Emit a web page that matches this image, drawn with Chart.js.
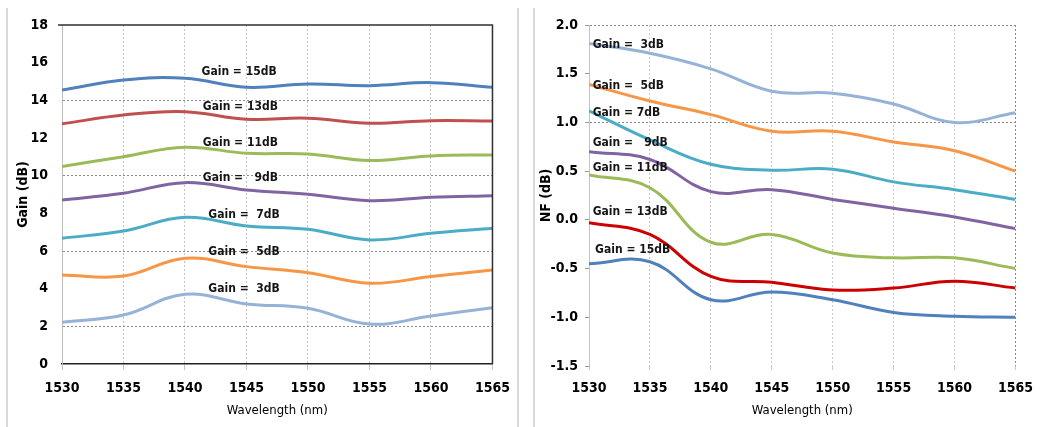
<!DOCTYPE html>
<html>
<head>
<meta charset="utf-8">
<script src="https://cdn.jsdelivr.net/npm/chart.js@4"></script>
<style>
  html, body { margin: 0; padding: 0; background: #fff; }
  #wrap { position: relative; width: 1043px; height: 427px; overflow: hidden; }
  .panel { position: absolute; top: 0; height: 427px; }
  .sep { position: absolute; top: 8px; bottom: 0; width: 0; border-left: 2px solid #d9d9d9; }
</style>
</head>
<body>
<div id="wrap">
  <div class="sep" style="left:6px"></div>
  <div class="sep" style="left:517px"></div>
  <div class="sep" style="left:533px"></div>
  <div class="panel" style="left:0;width:520px"><canvas id="gainChart" width="520" height="427"></canvas></div>
  <div class="panel" style="left:523px;width:520px"><canvas id="nfChart" width="520" height="427"></canvas></div>
</div>
<script>
// data
const wavelength = [1530, 1535, 1540, 1545, 1550, 1555, 1560, 1565];

const gain15 = [14.55, 15.08, 15.17, 14.69, 14.87, 14.78, 14.94, 14.69];
const gain13 = [12.75, 13.22, 13.40, 13.00, 13.05, 12.78, 12.92, 12.90];
const gain11 = [10.48, 11.01, 11.51, 11.19, 11.15, 10.80, 11.05, 11.10];
const gain9  = [8.71, 9.07, 9.63, 9.24, 9.01, 8.67, 8.85, 8.94];
const gain7  = [6.68, 7.06, 7.79, 7.33, 7.15, 6.59, 6.94, 7.21];
const gain5  = [4.73, 4.67, 5.61, 5.17, 4.85, 4.29, 4.64, 4.99];
const gain3  = [2.21, 2.60, 3.70, 3.19, 2.96, 2.12, 2.55, 2.99];

const nf3  = [1.81, 1.71, 1.55, 1.32, 1.30, 1.19, 1.00, 1.10];
const nf5  = [1.39, 1.22, 1.08, 0.91, 0.91, 0.80, 0.71, 0.50];
const nf7  = [1.12, 0.82, 0.57, 0.51, 0.52, 0.39, 0.31, 0.21];
const nf9  = [0.70, 0.62, 0.29, 0.31, 0.21, 0.12, 0.03, -0.09];
const nf11 = [0.46, 0.33, -0.23, -0.15, -0.34, -0.39, -0.39, -0.50];
const nf13 = [-0.03, -0.15, -0.58, -0.64, -0.72, -0.70, -0.63, -0.70];
const nf15 = [-0.45, -0.43, -0.82, -0.74, -0.82, -0.95, -0.99, -1.00];

const leftLabels  = ['Gain = 15dB', 'Gain = 13dB', 'Gain = 11dB', 'Gain =   9dB', 'Gain =  7dB', 'Gain =  5dB', 'Gain =  3dB'];
const rightLabels = ['Gain =  3dB', 'Gain =  5dB', 'Gain = 7dB', 'Gain =   9dB', 'Gain = 11dB', 'Gain = 13dB', 'Gain = 15dB'];

const FAMILY = "'Liberation Sans Narrow', 'DejaVu Sans Condensed', Arial, sans-serif";
const tickFont = { family: FAMILY, size: 14, weight: 'bold' };

function toPoints(vals) {
  return vals.map((v, i) => ({ x: wavelength[i], y: v }));
}
function series(vals, color) {
  return {
    data: toPoints(vals), borderColor: color, backgroundColor: color,
    borderWidth: 3, pointRadius: 0, tension: 0.4, fill: false
  };
}

// text next to each curve, placed with the chart's own scales
const curveLabels = {
  id: 'curveLabels',
  afterDatasetsDraw(chart, args, opts) {
    const { ctx, scales: { x, y } } = chart;
    ctx.save();
    ctx.font = opts.font;
    ctx.fillStyle = '#151515';
    ctx.textAlign = opts.align;
    ctx.textBaseline = 'middle';
    opts.items.forEach(it => {
      ctx.fillText(it.text, x.getPixelForValue(it.x), y.getPixelForValue(it.y));
    });
    ctx.restore();
  }
};

// top + right edge of the plot box
const frame = {
  id: 'frame',
  afterDraw(chart, args, opts) {
    if (!opts.color) return;
    const { ctx, chartArea: a } = chart;
    ctx.save();
    ctx.strokeStyle = opts.color;
    ctx.lineWidth = opts.width || 1;
    ctx.beginPath();
    ctx.moveTo(a.left - 4, a.top);
    ctx.lineTo(a.right, a.top);
    ctx.lineTo(a.right, a.bottom);
    ctx.stroke();
    ctx.restore();
  }
};

// left: gain
new Chart(document.getElementById('gainChart'), {
  type: 'line',
  data: {
    datasets: [
      series(gain15, '#4F81BD'),
      series(gain13, '#C0504D'),
      series(gain11, '#9BBB59'),
      series(gain9,  '#8064A2'),
      series(gain7,  '#4BACC6'),
      series(gain5,  '#F79646'),
      series(gain3,  '#95B3D7')
    ]
  },
  plugins: [curveLabels, frame],
  options: {
    responsive: false,
    animation: false,
    layout: { padding: { top: 25, right: 24, left: 0, bottom: 0 } },
    plugins: {
      legend: { display: false },
      tooltip: { enabled: false },
      frame: { color: '#303030', width: 1.5 },
      curveLabels: {
        font: "bold 12px " + FAMILY,
        align: 'center',
        items: [
          { text: leftLabels[0], x: 1544.4, y: 15.5 },
          { text: leftLabels[1], x: 1544.5, y: 13.65 },
          { text: leftLabels[2], x: 1544.5, y: 11.75 },
          { text: leftLabels[3], x: 1544.5, y: 9.86 },
          { text: leftLabels[4], x: 1544.8, y: 7.91 },
          { text: leftLabels[5], x: 1544.8, y: 5.93 },
          { text: leftLabels[6], x: 1544.8, y: 3.97 }
        ]
      }
    },
    scales: {
      x: {
        type: 'linear', min: 1530, max: 1565,
        afterFit: s => { s.height = 63; },
        ticks: { stepSize: 5, color: '#000', font: tickFont, padding: 10, callback: v => String(v) },
        grid: { color: '#c4c4c4', tickLength: 6, tickColor: '#c4c4c4' },
        border: { display: true, color: '#202020', width: 1.5, dash: [2, 2] },
        title: { display: true, text: 'Wavelength (nm)', color: '#000',
                 font: { family: FAMILY, size: 13 }, padding: { top: 0, bottom: 9 } }
      },
      y: {
        min: 0, max: 18,
        afterFit: s => { s.width = 62; },
        ticks: { stepSize: 2, color: '#000', font: tickFont, padding: 14 },
        grid: {
          drawTicks: false,
          color: c => [2, 6, 10, 14].includes(c.tick.value) ? '#8a8a8a' : 'rgba(0,0,0,0)'
        },
        border: { display: true, color: '#bdbdbd', width: 1, dash: [2, 2] },
        title: { display: true, text: 'Gain (dB)', color: '#000',
                 font: { family: FAMILY, size: 14, weight: 'bold' }, padding: { top: 15, bottom: 0 } }
      }
    }
  }
});

// right: noise figure
new Chart(document.getElementById('nfChart'), {
  type: 'line',
  data: {
    datasets: [
      series(nf3,  '#95B3D7'),
      series(nf5,  '#F79646'),
      series(nf7,  '#4BACC6'),
      series(nf9,  '#8064A2'),
      series(nf11, '#9BBB59'),
      series(nf13, '#CC0000'),
      series(nf15, '#4F81BD')
    ]
  },
  plugins: [curveLabels],
  options: {
    responsive: false,
    animation: false,
    layout: { padding: { top: 25, right: 14, left: 0, bottom: 0 } },
    plugins: {
      legend: { display: false },
      tooltip: { enabled: false },
      curveLabels: {
        font: "bold 12px " + FAMILY,
        align: 'left',
        items: [
          { text: rightLabels[0], x: 1530.3, y: 1.80 },
          { text: rightLabels[1], x: 1530.3, y: 1.38 },
          { text: rightLabels[2], x: 1530.3, y: 1.10 },
          { text: rightLabels[3], x: 1530.3, y: 0.79 },
          { text: rightLabels[4], x: 1530.3, y: 0.53 },
          { text: rightLabels[5], x: 1530.3, y: 0.08 },
          { text: rightLabels[6], x: 1530.5, y: -0.31 }
        ]
      }
    },
    scales: {
      x: {
        type: 'linear', min: 1530, max: 1565,
        afterFit: s => { s.height = 61; },
        ticks: { stepSize: 5, color: '#000', font: tickFont, padding: 10, callback: v => String(v) },
        grid: {
          tickLength: 4,
          color: c => c.tick.value === 1565 ? '#8a8a8a' : '#c8c8c8',
          tickColor: '#c8c8c8'
        },
        border: { display: false, dash: [2, 2] },
        title: { display: true, text: 'Wavelength (nm)', color: '#000',
                 font: { family: FAMILY, size: 13 }, padding: { top: 0, bottom: 9 } }
      },
      y: {
        min: -1.5, max: 2.0,
        afterFit: s => { s.width = 66; },
        ticks: { stepSize: 0.5, color: '#000', font: tickFont, padding: 7, callback: v => v.toFixed(1) },
        grid: {
          tickLength: 4,
          tickColor: '#9a9a9a',
          color: c => (c.tick.value === 2 || c.tick.value === 1) ? '#8a8a8a' : 'rgba(0,0,0,0)'
        },
        border: { display: true, color: '#c4c4c4', width: 1, dash: [2, 2] },
        title: { display: true, text: 'NF (dB)', color: '#000',
                 font: { family: FAMILY, size: 14, weight: 'bold' }, padding: { top: 15, bottom: 0 } }
      }
    }
  }
});
</script>
</body>
</html>
